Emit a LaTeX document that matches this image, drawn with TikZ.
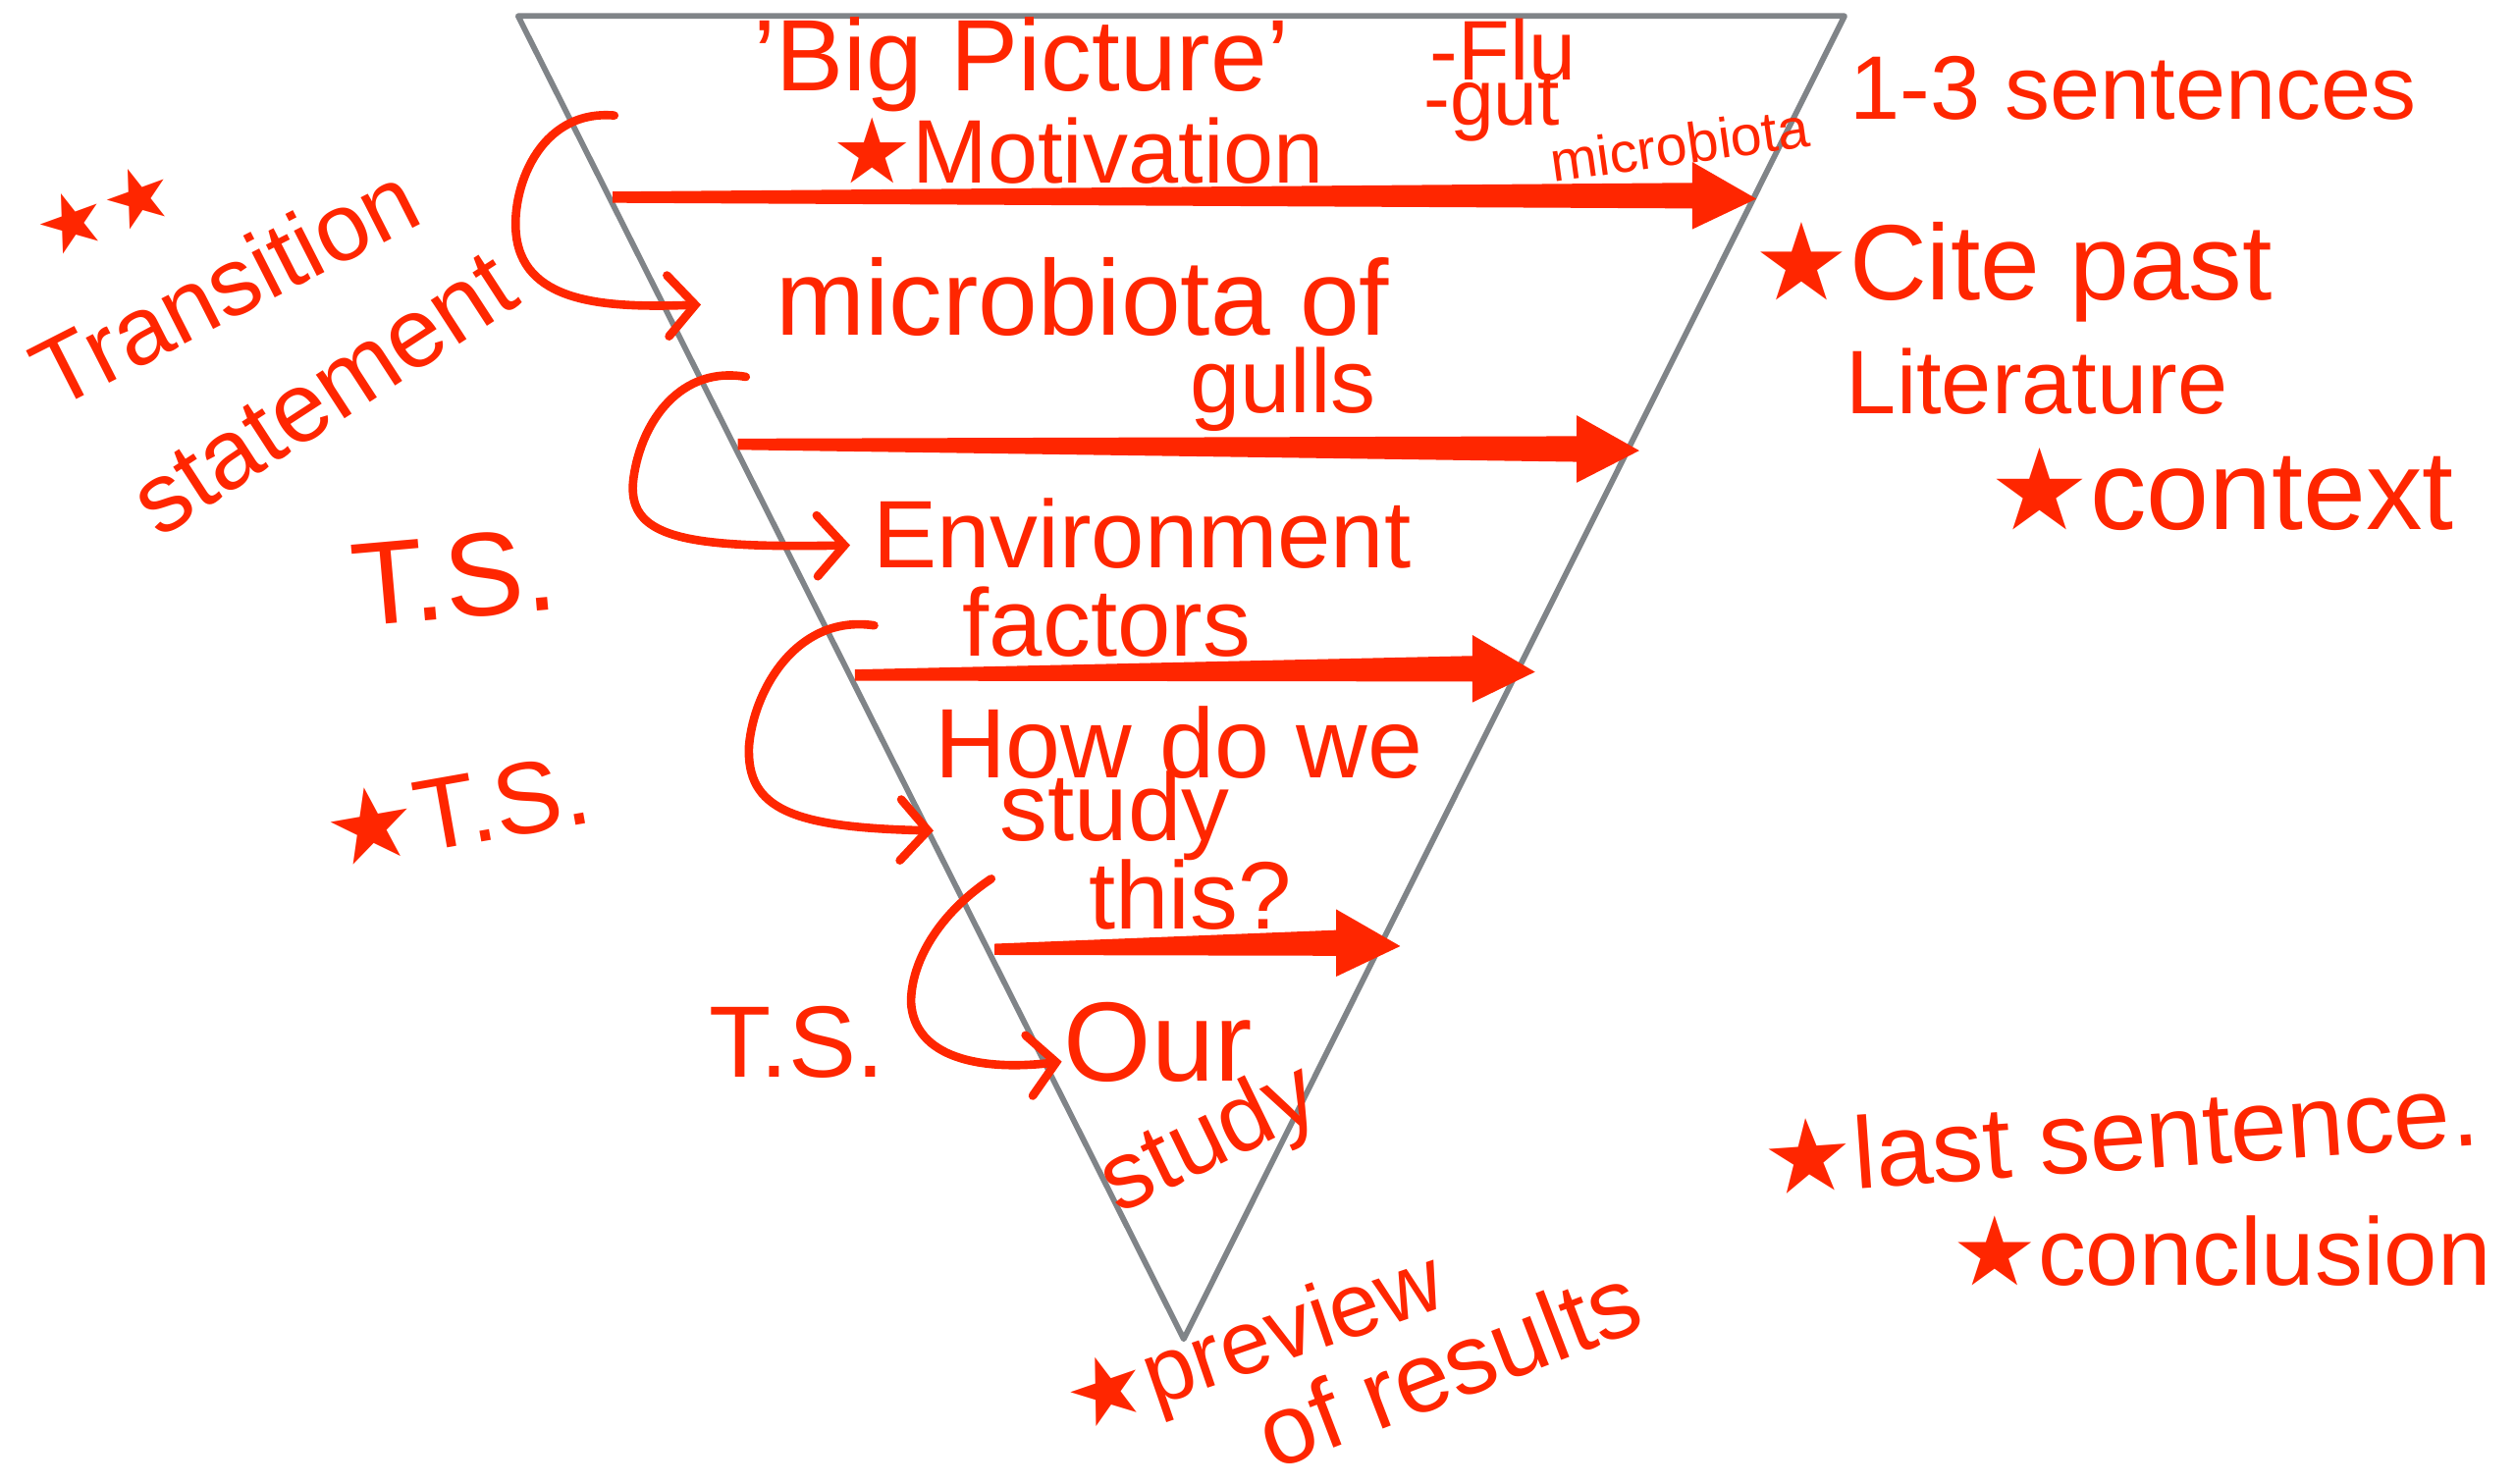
\documentclass[tikz,border=0pt]{standalone}
\usepackage{fontspec}
\setmainfont{Liberation Sans}
\newfontfamily\symfont{DejaVu Sans}
\usetikzlibrary{arrows.meta,calc}
\definecolor{inkred}{RGB}{255,38,0}
\definecolor{trigray}{RGB}{128,132,136}
\newcommand{\hstar}{{\symfont ★}}
\newcommand{\taper}[3]{%
  \fill[inkred] ($(#1)+(0,-3.5)$) -- ($(#2)+(0,-8)$) -- ($(#2)+(0,-21)$) -- (#3)
     -- ($(#2)+(0,21)$) -- ($(#2)+(0,8)$) -- ($(#1)+(0,3.5)$) -- cycle;}
\begin{document}
\begin{tikzpicture}[x=0.01cm,y=-0.01cm,
  hw/.style={text=inkred, inner sep=0pt, font=\fontsize{#1}{#1}\selectfont},
  hw/.default=18,
  tri/.style={draw=trigray, line width=1pt, line join=round},
  hook/.style={draw=inkred, line width=1.5pt, line cap=round,
     -{Straight Barb[length=0.17cm,width=0.38cm,line cap=round]}}]
\fill[white] (0,0) rectangle (1568,925);
\useasboundingbox (0,0) rectangle (1568,925);

% funnel
\coordinate (tl) at (323,10);
\coordinate (tr) at (1150,10);
\coordinate (tb) at (738,835);
\draw[tri] (tl) -- (tr) -- (tb) -- cycle;

% big arrows
\coordinate (a1s) at (382,123); \coordinate (a1b) at (1055,122); \coordinate (a1t) at (1095,124);
\coordinate (a2s) at (460,277); \coordinate (a2b) at (983,280); \coordinate (a2t) at (1022,281);
\coordinate (a3s) at (533,421); \coordinate (a3b) at (918,417); \coordinate (a3t) at (957,419);
\coordinate (a4s) at (620,592); \coordinate (a4b) at (833,588); \coordinate (a4t) at (873,590);
\taper{a1s}{a1b}{a1t}
\taper{a2s}{a2b}{a2t}
\taper{a3s}{a3b}{a3t}
\taper{a4s}{a4b}{a4t}

% texts
\node[hw=18] (bigpic) at (637,40) {'Big Picture'};
\node[hw=16] (motiv) at (672,94) {\hstar Motivation};
\node[hw=15] (flu) at (937,31) {-Flu};
\node[hw=14] (gut) at (930,67) {-gut};
\node[hw=10, rotate=8] (micro1) at (1047,90) {microbiota};
\node[hw=16] (sent) at (1330,55) {1-3 sentences};
\node[hw=19] (cite) at (1255,170) {\hstar Cite past};
\node[hw=16] (lit) at (1270,238) {Literature};
\node[hw=20] (ctx) at (1385,305) {\hstar context};
\node[hw=14, rotate=20] (stars) at (65,130) {\hstar\hstar};
\node[hw=17, rotate=27] (trans) at (140,178) {Transition};
\node[hw=17.5, rotate=33] (stmt) at (202,246) {statement};
\node[hw=19] (mic) at (675,185) {microbiota of};
\node[hw=16] (gulls) at (800,243) {gulls};
\node[hw=21, rotate=5] (ts1) at (283,360) {T.S.};
\node[hw=17] (env) at (712,333) {Environment};
\node[hw=17] (fac) at (690,388) {factors};
\node[hw=17.5] (how) at (735,463) {How do we};
\node[hw=17] (study1) at (695,509) {study};
\node[hw=17] (this) at (742,558) {this?};
\node[hw=18, rotate=10] (ts2) at (285,505) {\hstar T.S.};
\node[hw=18] (ts3) at (497,650) {T.S.};
\node[hw=20] (our) at (722,650) {Our};
\node[hw=17, rotate=26] (study2) at (755,712) {study};
\node[hw=18, rotate=4] (last) at (1322,707) {\hstar last sentence.};
\node[hw=17] (concl) at (1385,780) {\hstar conclusion};
\node[hw=16, rotate=19] (prev) at (783,840) {\hstar preview};
\node[hw=17.5, rotate=21] (ofres) at (903,852) {of results};

% transition hooks
\coordinate (h1s) at (383,72);  \coordinate (h1e) at (437,190);
\coordinate (h2s) at (465,235); \coordinate (h2e) at (530,340);
\coordinate (h3s) at (545,390); \coordinate (h3e) at (582,518);
\coordinate (h4s) at (618,548); \coordinate (h4e) at (662,662);
\draw[hook] (h1s) .. controls (335,68) and (318,120) .. (322,148)
   .. controls (328,190) and (380,192) .. (h1e);
\draw[hook] (h2s) .. controls (425,228) and (400,262) .. (395,298)
   .. controls (390,335) and (425,342) .. (h2e);
\draw[hook] (h3s) .. controls (497,383) and (470,430) .. (467,465)
   .. controls (465,505) and (495,516) .. (h3e);
\draw[hook] (h4s) .. controls (585,570) and (568,600) .. (568,625)
   .. controls (570,660) and (612,668) .. (h4e);
\end{tikzpicture}
\end{document}
